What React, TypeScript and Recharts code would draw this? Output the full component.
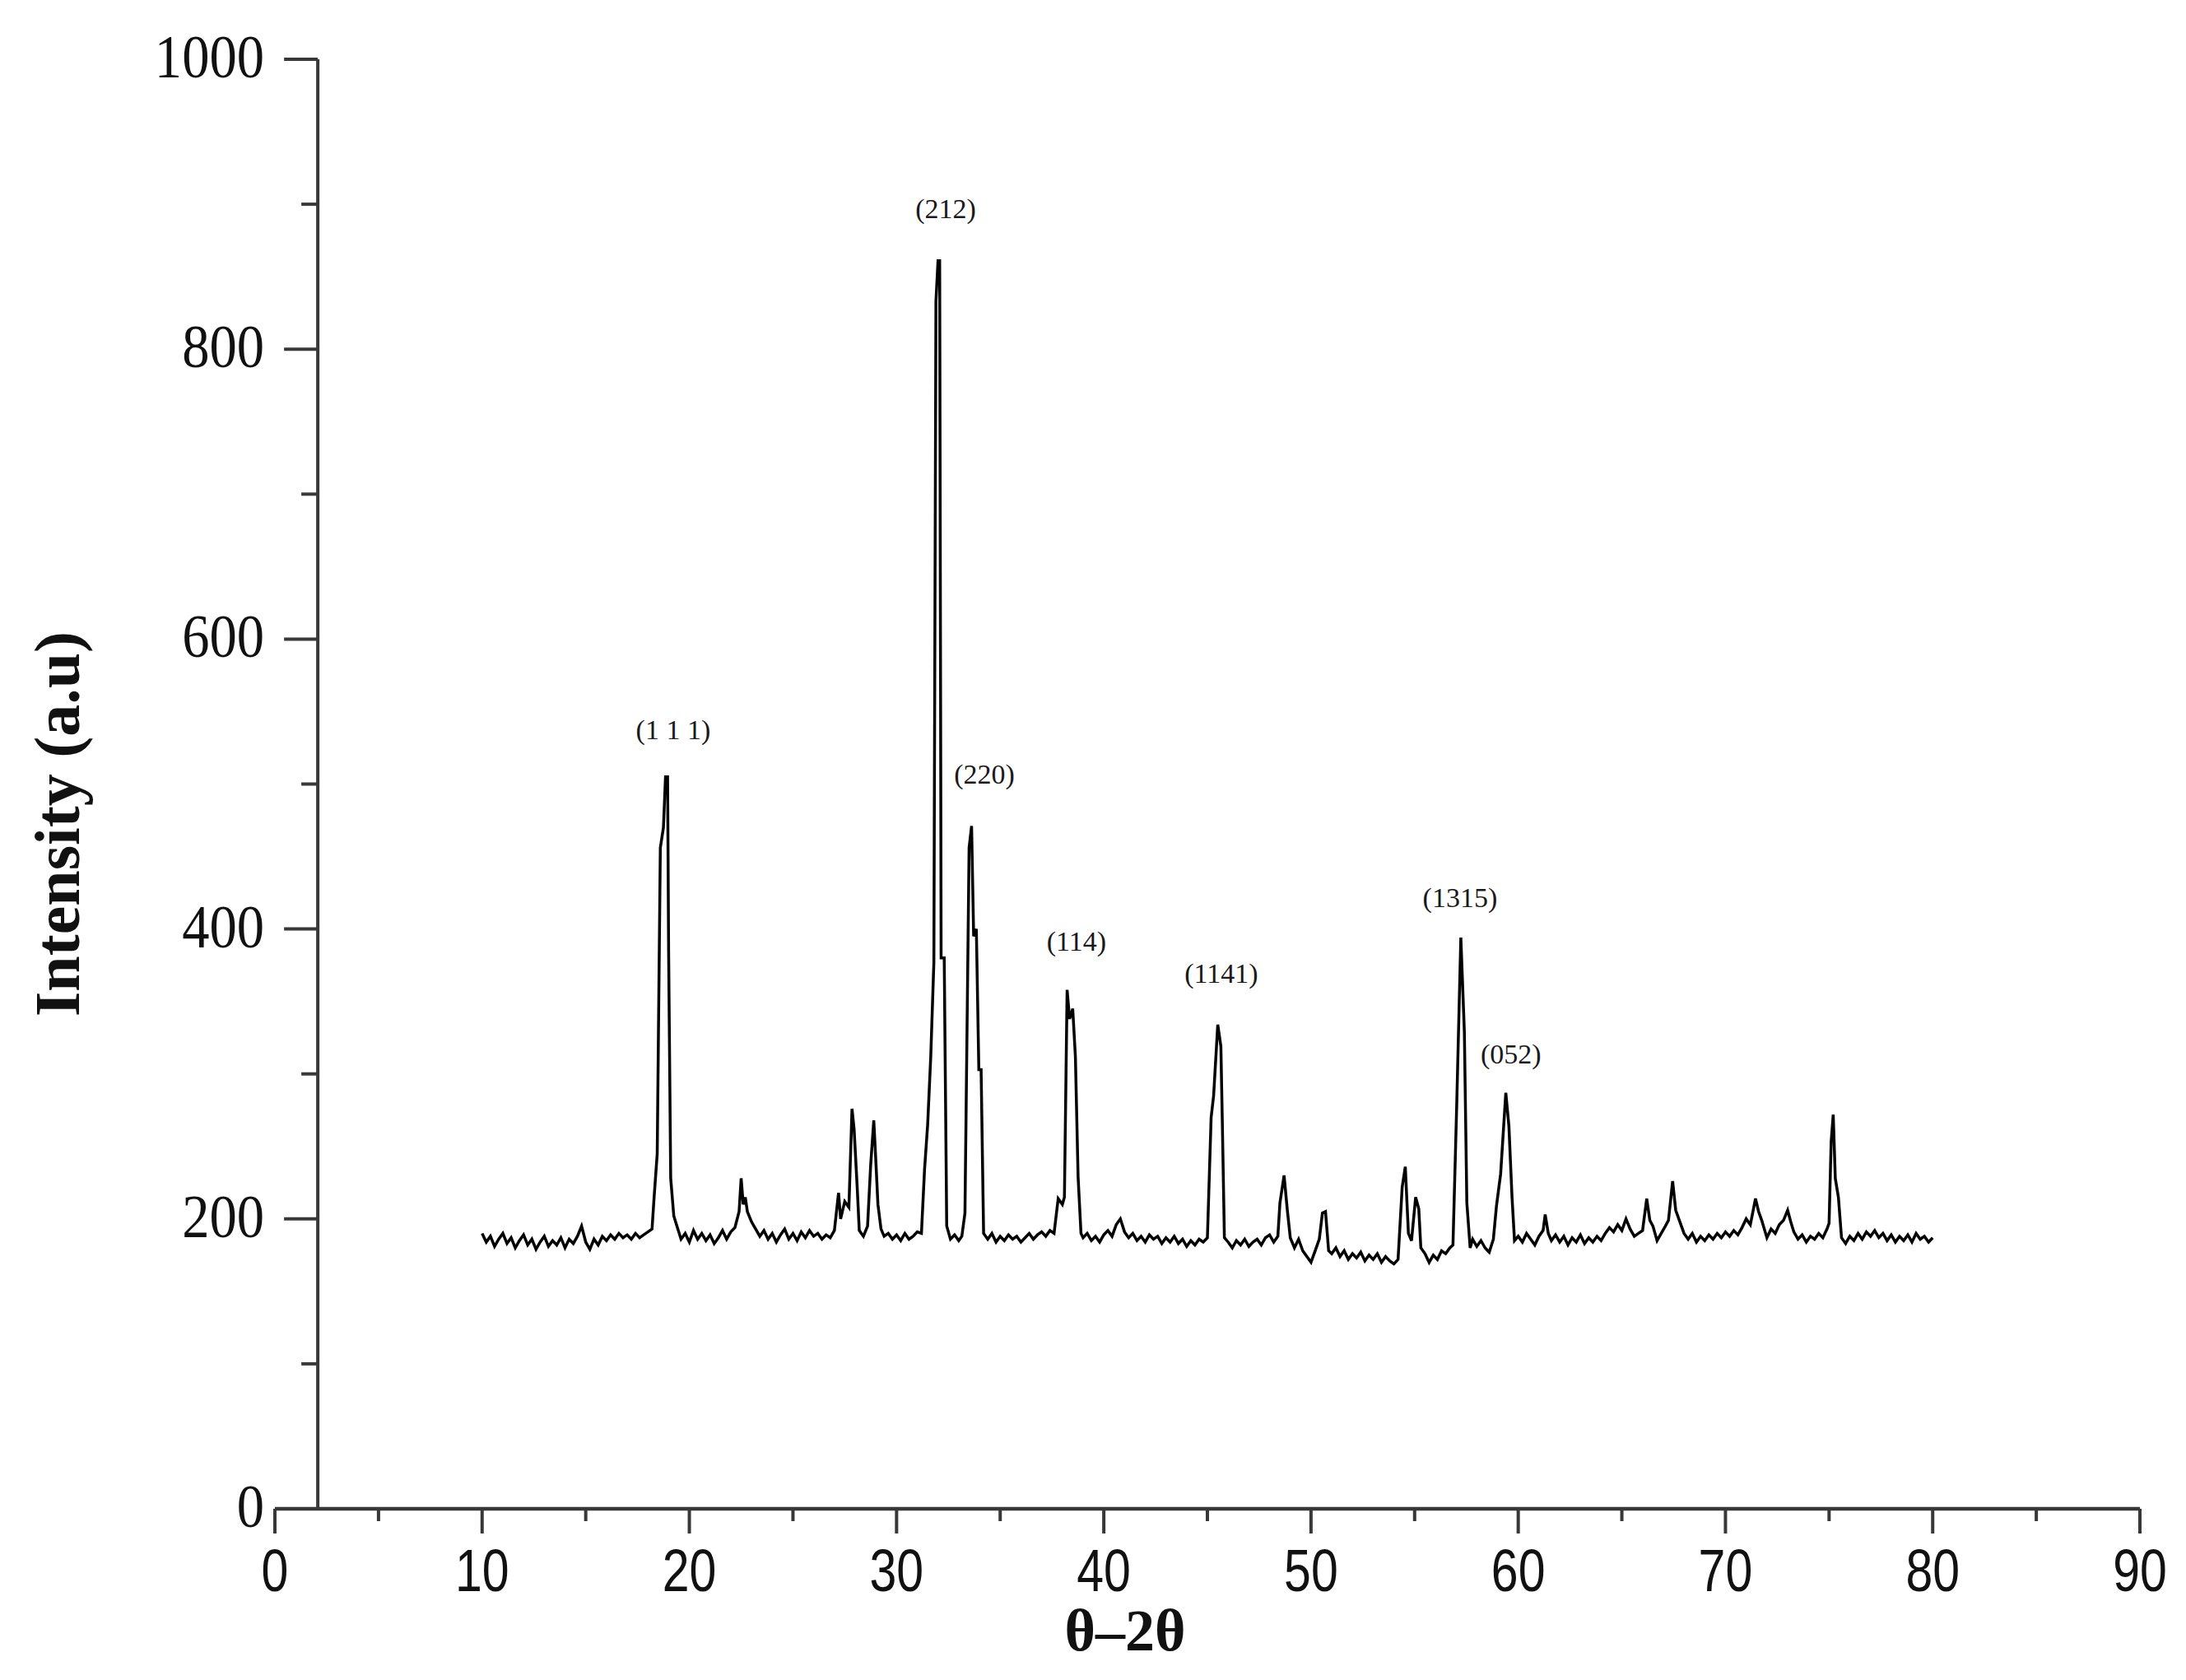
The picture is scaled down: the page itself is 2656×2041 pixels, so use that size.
import React from 'react';
import { LineChart, Line, XAxis, YAxis, ReferenceLine, ReferenceDot } from 'recharts';

// ---- data: [2θ (deg), intensity (a.u.)] ----
const scan10to19: [number, number][] = [
  [10.0, 190], [10.2, 184], [10.4, 188], [10.6, 181], [10.8, 186], [11.0, 190], [11.2, 183], [11.4, 187],
  [11.6, 180], [11.8, 185], [12.0, 189], [12.2, 182], [12.4, 186], [12.6, 179], [12.8, 184], [13.0, 188],
  [13.2, 181], [13.4, 185], [13.6, 182], [13.8, 187], [14.0, 180], [14.2, 186], [14.4, 183], [14.6, 188],
  [14.8, 195], [15.0, 184], [15.2, 179], [15.4, 186], [15.6, 182], [15.8, 188], [16.0, 185], [16.2, 189],
  [16.4, 186], [16.6, 190], [16.8, 187], [17.0, 189], [17.2, 186], [17.4, 190], [17.6, 187], [17.8, 189],
  [18.0, 191], [18.2, 193], [18.3, 215], [18.45, 245], [18.6, 456], [18.75, 470], [18.85, 505], [18.95, 505],
  [19.0, 385], [19.1, 228], [19.25, 202], [19.4, 195], [19.6, 186],
];

const scan19to29: [number, number][] = [
  [19.8, 190], [20.0, 184], [20.2, 192], [20.4, 186], [20.6, 190], [20.8, 185], [21.0, 189], [21.2, 183],
  [21.4, 187], [21.6, 192], [21.8, 186], [22.0, 191], [22.2, 194], [22.4, 205], [22.5, 228], [22.6, 210],
  [22.7, 215], [22.8, 205], [23.0, 198], [23.2, 193], [23.4, 188], [23.6, 192], [23.8, 186], [24.0, 190],
  [24.2, 184], [24.4, 189], [24.6, 193], [24.8, 186], [25.0, 190], [25.2, 185], [25.4, 191], [25.6, 187],
  [25.8, 192], [26.0, 188], [26.2, 190], [26.4, 186], [26.6, 189], [26.8, 187], [27.0, 192], [27.2, 218],
  [27.3, 200], [27.5, 212], [27.7, 208], [27.85, 276], [27.95, 262], [28.1, 222], [28.2, 192], [28.4, 188],
  [28.6, 195], [28.75, 237], [28.9, 268], [29.0, 240], [29.1, 210], [29.25, 193], [29.4, 188],
];

const scan29to39: [number, number][] = [
  [29.6, 190], [29.8, 186], [30.0, 189], [30.2, 185], [30.4, 190], [30.6, 186], [30.8, 188], [31.0, 191],
  [31.2, 190], [31.35, 234], [31.5, 265], [31.65, 312], [31.8, 377], [31.9, 833], [32.0, 861], [32.08, 861],
  [32.15, 380], [32.3, 380], [32.42, 195], [32.6, 186], [32.8, 189], [33.0, 185], [33.15, 188], [33.3, 204],
  [33.5, 456], [33.62, 471], [33.72, 395], [33.85, 400], [33.97, 303], [34.08, 303], [34.2, 190], [34.4, 186],
  [34.6, 190], [34.8, 184], [35.0, 188], [35.2, 185], [35.4, 189], [35.6, 186], [35.8, 188], [36.0, 184],
  [36.2, 187], [36.4, 190], [36.6, 186], [36.8, 189], [37.0, 191], [37.2, 188], [37.4, 192], [37.6, 190],
  [37.8, 214], [38.0, 210], [38.1, 215], [38.23, 358], [38.35, 338], [38.5, 345], [38.63, 312], [38.76, 229],
  [38.9, 190],
];

const scan39to50: [number, number][] = [
  [39.0, 187], [39.2, 190], [39.4, 185], [39.6, 188], [39.8, 184], [40.0, 189], [40.2, 192], [40.4, 188],
  [40.6, 196], [40.8, 200], [41.0, 191], [41.2, 187], [41.4, 190], [41.6, 185], [41.8, 188], [42.0, 184],
  [42.2, 189], [42.4, 186], [42.6, 188], [42.8, 183], [43.0, 187], [43.2, 184], [43.4, 188], [43.6, 183],
  [43.8, 186], [44.0, 181], [44.2, 185], [44.4, 182], [44.6, 186], [44.8, 184], [45.0, 187], [45.18, 270],
  [45.3, 285], [45.5, 334], [45.65, 319], [45.72, 267], [45.82, 187], [46.0, 184], [46.2, 180], [46.4, 185],
  [46.6, 182], [46.8, 186], [47.0, 181], [47.2, 184], [47.4, 186], [47.6, 182], [47.8, 187], [48.0, 189],
  [48.2, 184], [48.4, 188], [48.5, 211], [48.7, 230], [48.85, 207], [49.0, 187], [49.2, 180], [49.4, 186],
  [49.6, 178], [49.8, 174], [50.0, 170],
];

const scan50to60: [number, number][] = [
  [50.2, 178], [50.4, 186], [50.55, 204], [50.7, 205], [50.85, 178], [51.0, 176], [51.2, 180], [51.4, 174],
  [51.6, 178], [51.8, 172], [52.0, 176], [52.2, 173], [52.4, 177], [52.6, 171], [52.8, 175], [53.0, 172],
  [53.2, 176], [53.4, 170], [53.6, 174], [53.8, 171], [54.0, 169], [54.2, 172], [54.4, 222], [54.55, 236],
  [54.7, 190], [54.85, 185], [55.05, 215], [55.2, 207], [55.3, 180], [55.5, 176], [55.7, 170], [55.9, 175],
  [56.1, 172], [56.3, 178], [56.5, 176], [56.7, 180], [56.85, 182], [57.03, 278], [57.23, 394], [57.4, 329],
  [57.52, 211], [57.68, 180], [57.8, 186], [58.0, 181], [58.2, 185], [58.4, 180], [58.6, 177], [58.8, 186],
  [58.95, 209], [59.15, 231], [59.4, 287], [59.55, 264], [59.7, 215], [59.82, 185],
];

const scan60to80: [number, number][] = [
  [60.0, 188], [60.2, 184], [60.4, 190], [60.6, 186], [60.8, 182], [61.0, 188], [61.2, 192], [61.3, 203],
  [61.45, 190], [61.6, 185], [61.8, 189], [62.0, 184], [62.2, 188], [62.4, 182], [62.6, 187], [62.8, 184],
  [63.0, 189], [63.2, 183], [63.4, 187], [63.6, 184], [63.8, 188], [64.0, 185], [64.2, 190], [64.4, 194],
  [64.6, 191], [64.8, 196], [65.0, 192], [65.2, 200], [65.4, 193], [65.6, 188], [65.8, 190], [66.0, 192],
  [66.2, 214], [66.35, 199], [66.5, 195], [66.7, 185], [66.9, 190], [67.1, 195], [67.25, 199], [67.45, 226],
  [67.6, 206], [67.8, 198], [68.0, 190], [68.2, 186], [68.4, 190], [68.6, 184], [68.8, 188], [69.0, 185],
  [69.2, 189], [69.4, 186], [69.6, 190], [69.8, 187], [70.0, 191], [70.2, 188], [70.4, 192], [70.6, 189],
  [70.8, 194], [71.0, 200], [71.2, 196], [71.45, 214], [71.6, 205], [71.75, 199], [72.0, 187], [72.2, 193],
  [72.4, 190], [72.6, 196], [72.8, 199], [73.0, 206], [73.15, 198], [73.3, 191], [73.5, 186], [73.7, 189],
  [73.9, 184], [74.1, 188], [74.3, 186], [74.5, 190], [74.7, 187], [74.9, 193], [75.0, 197], [75.1, 253],
  [75.2, 272], [75.3, 228], [75.45, 215], [75.6, 187], [75.8, 183], [76.0, 188], [76.2, 185], [76.4, 190],
  [76.6, 186], [76.8, 191], [77.0, 188], [77.2, 192], [77.4, 187], [77.6, 190], [77.8, 185], [78.0, 189],
  [78.2, 184], [78.4, 188], [78.6, 185], [78.8, 189], [79.0, 184], [79.2, 190], [79.4, 186], [79.6, 188],
  [79.8, 184], [80.0, 187],
];

const peakLabels = [
  { x: 19.22, y: 538, text: '(1 1 1)' },
  { x: 32.37, y: 897, text: '(212)' },
  { x: 34.24, y: 507, text: '(220)' },
  { x: 38.68, y: 392, text: '(114)' },
  { x: 45.67, y: 370, text: '(1141)' },
  { x: 57.19, y: 422, text: '(1315)' },
  { x: 59.65, y: 314, text: '(052)' },
];

const xTicks = [0, 5, 10, 15, 20, 25, 30, 35, 40, 45, 50, 55, 60, 65, 70, 75, 80, 85, 90];
const yTicks = [0, 100, 200, 300, 400, 500, 600, 700, 800, 900, 1000];
const xTitle = 'θ–2θ';
const yTitle = 'Intensity (a.u)';

const table = [...scan10to19, ...scan19to29, ...scan29to39, ...scan39to50, ...scan50to60, ...scan60to80].map(
  ([t, i]) => ({ t, i })
);

// ---- layout ----
const W = 2640;
const H = 2025;
const MARGIN = { top: 64, right: 48, bottom: 60, left: 26 };
const Y_AXIS_W = 300;
const X_AXIS_H = 140;
const PLOT_W = W - MARGIN.left - MARGIN.right - Y_AXIS_W;
const X_MAX = 90;
const Y_AXIS_AT = 2.07;
const Y_AXIS_OFFSET = (Y_AXIS_AT / X_MAX) * PLOT_W;
const AXIS = '#383838';
const SERIF = '"Liberation Serif", "Times New Roman", serif';
const SANS = '"Liberation Sans", Arial, sans-serif';

const XTick = (props: any) => {
  const { x, y, payload } = props;
  const major = payload.value % 10 === 0;
  return (
    <g>
      <line x1={x} x2={x} y1={y} y2={y + (major ? 30 : 15)} stroke={AXIS} strokeWidth={4} />
      {major && (
        <text
          transform={`translate(${x},${y + 100}) scale(0.82,1)`}
          textAnchor="middle"
          fontFamily={SANS}
          fontSize={72}
          fill="#111"
        >
          {payload.value}
        </text>
      )}
    </g>
  );
};

const YTick = (props: any) => {
  const { x, y, payload } = props;
  const major = payload.value % 200 === 0;
  const ax = x + Y_AXIS_OFFSET;
  return (
    <g>
      <line x1={ax - (major ? 41 : 20)} x2={ax} y1={y} y2={y} stroke={AXIS} strokeWidth={4} />
      {major && (
        <text
          transform={`translate(${x - 13},${y + 22}) scale(0.9,1)`}
          textAnchor="end"
          fontFamily={SERIF}
          fontSize={74}
          fill="#111"
        >
          {payload.value}
        </text>
      )}
    </g>
  );
};

const YTitle = () => (
  <text
    transform="translate(61,993) rotate(-90)"
    textAnchor="middle"
    dominantBaseline="central"
    fontFamily={SERIF}
    fontWeight="bold"
    fontSize={78}
    fill="#111"
  >
    {yTitle}
  </text>
);

const XTitle = () => (
  <text
    x={1359}
    y={1973}
    textAnchor="middle"
    dominantBaseline="central"
    fontFamily={SERIF}
    fontWeight="bold"
    fontSize={72}
    fill="#111"
  >
    {xTitle}
  </text>
);

export default function App() {
  return (
    <div style={{ width: W, height: H, background: '#fff' }}>
      <LineChart width={W} height={H} data={table} margin={MARGIN}>
        <XAxis
          dataKey="t"
          type="number"
          domain={[0, X_MAX]}
          ticks={xTicks}
          interval={0}
          height={X_AXIS_H}
          tickSize={0}
          tickMargin={0}
          tickLine={false}
          axisLine={{ stroke: AXIS, strokeWidth: 4.5 }}
          tick={<XTick />}
          label={<XTitle />}
          allowDecimals
        />
        <YAxis
          type="number"
          domain={[0, 1000]}
          ticks={yTicks}
          interval={0}
          width={Y_AXIS_W}
          tickSize={0}
          tickMargin={0}
          tickLine={false}
          axisLine={false}
          tick={<YTick />}
          label={<YTitle />}
        />
        <ReferenceLine x={Y_AXIS_AT} stroke={AXIS} strokeWidth={4} />
        <Line
          type="linear"
          dataKey="i"
          stroke="#000"
          strokeWidth={3.5}
          dot={false}
          isAnimationActive={false}
        />
        {peakLabels.map((p) => (
          <ReferenceDot
            key={p.text}
            x={p.x}
            y={p.y}
            r={0}
            stroke="none"
            fill="none"
            label={{ value: p.text, position: 'center', fontFamily: SERIF, fontSize: 34, fill: '#1a1a1a' }}
          />
        ))}
      </LineChart>
    </div>
  );
}
